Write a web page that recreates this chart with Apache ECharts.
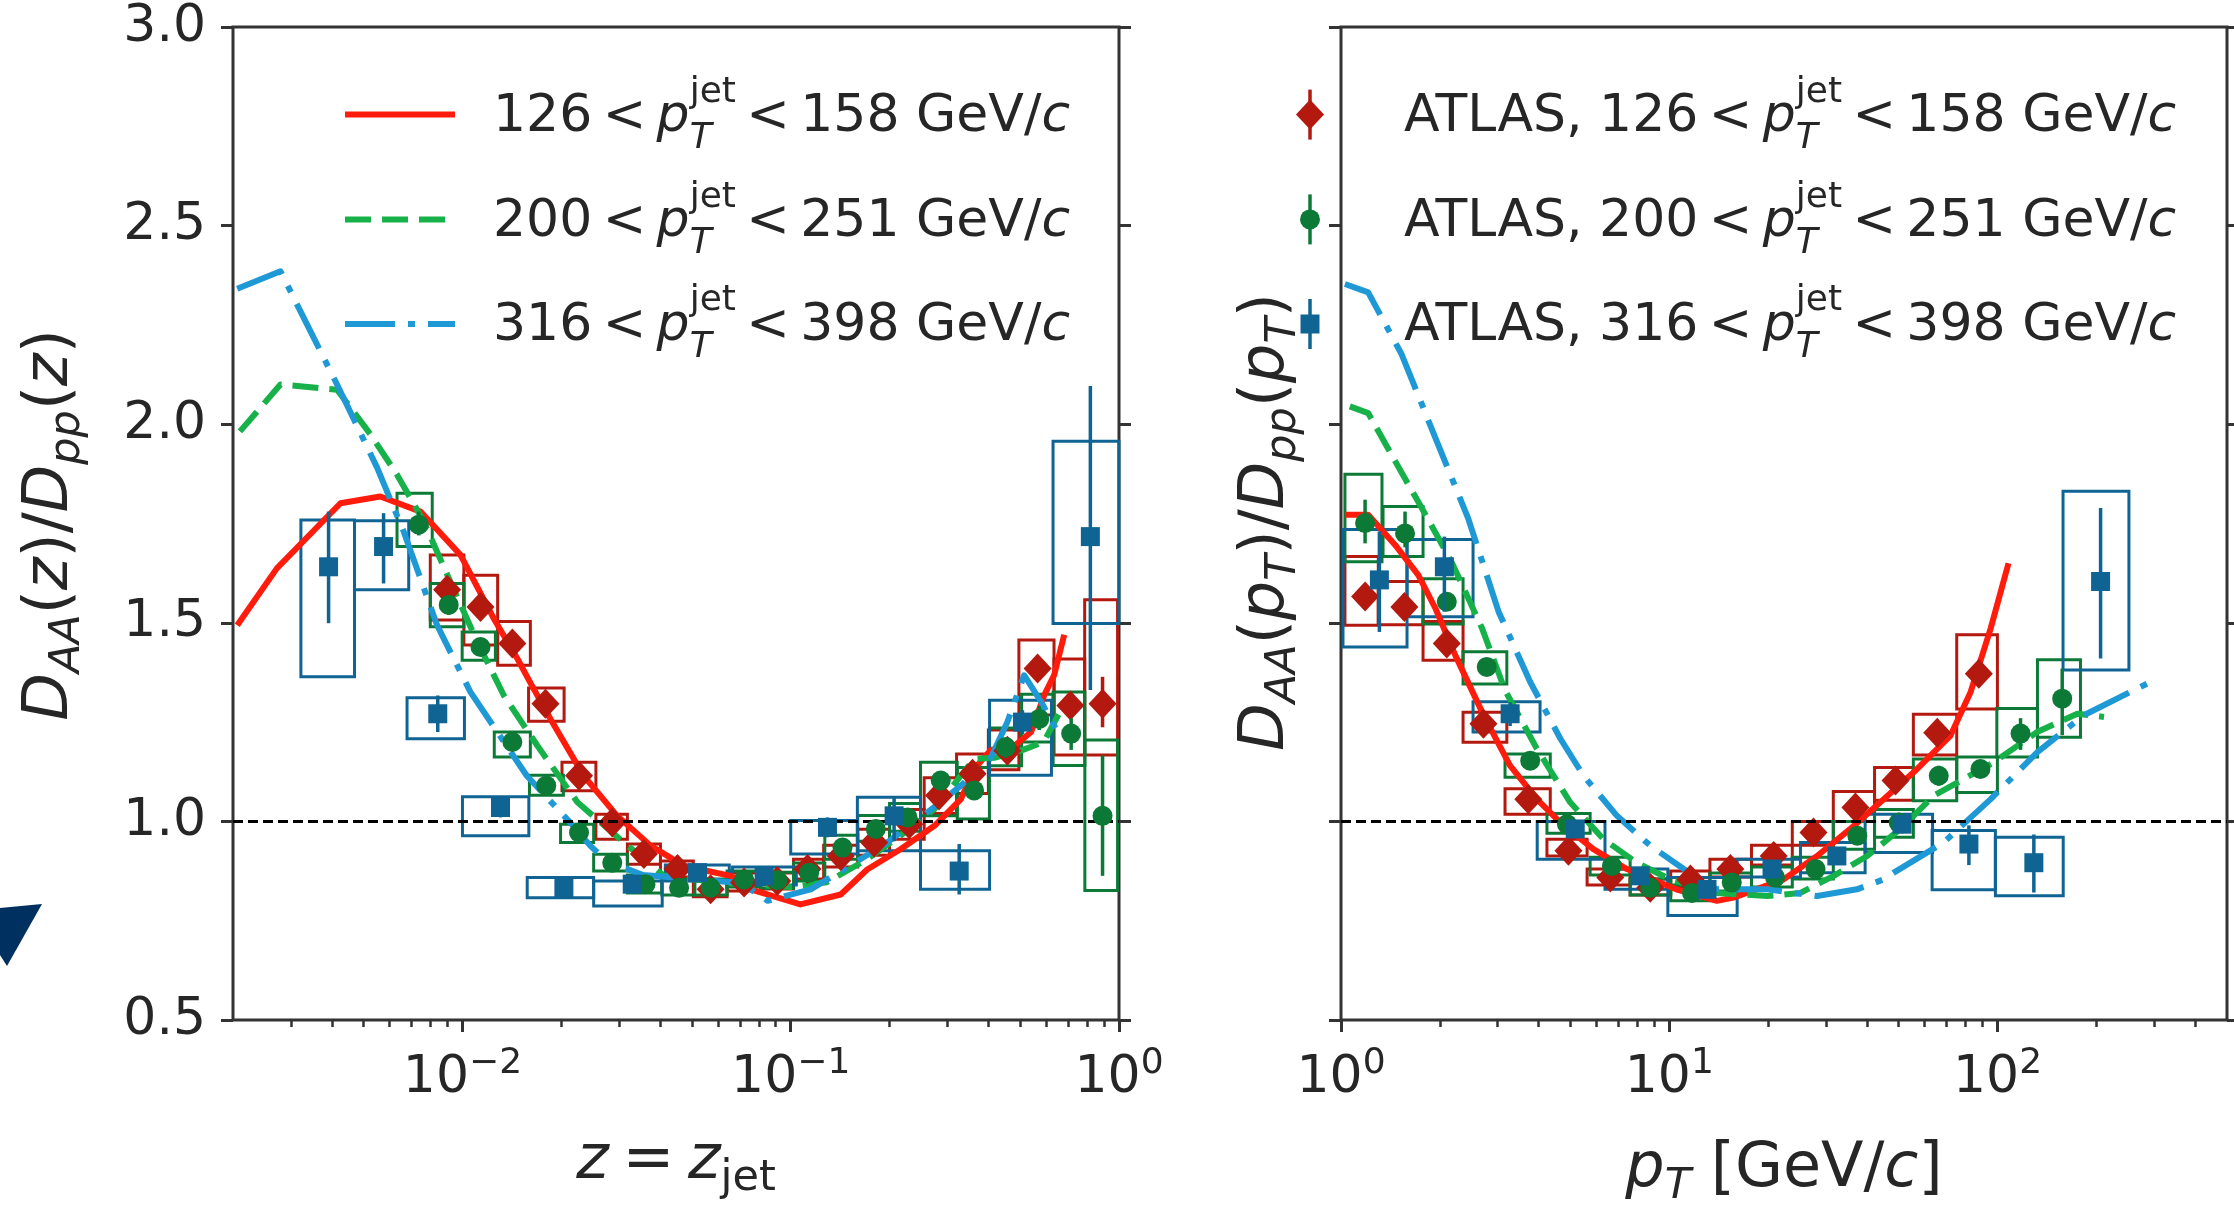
<!DOCTYPE html>
<html><head><meta charset="utf-8">
<script src="https://cdn.jsdelivr.net/npm/echarts@6/dist/echarts.min.js"></script>
<style>html,body{margin:0;padding:0;background:#fff}#c{width:2234px;height:1210px}</style>
</head><body><div id="c"></div>
<script>
// ---------------- DATA ----------------
// Left panel: theory curves D_AA(z)/D_pp(z)
const zTheoryRed = [0.00206,0.00272,0.00425,0.00562,0.00745,0.00986,0.01245,0.01469,0.0162,0.01854,0.0234,0.0296,0.0374,0.0473,0.0532,0.0656,0.0755,0.107,0.142,0.171,0.216,0.274,0.33,0.362,0.407,0.48,0.54,0.592,0.635,0.681];
const yTheoryRed = [1.494,1.637,1.801,1.818,1.780,1.671,1.511,1.410,1.345,1.258,1.115,1.014,0.939,0.888,0.879,0.863,0.829,0.791,0.816,0.879,0.930,0.989,1.056,1.132,1.18,1.19,1.225,1.318,1.369,1.47];
const zTheoryGreen = [0.0021,0.00279,0.00415,0.00525,0.00632,0.00762,0.00918,0.0111,0.01337,0.0169,0.0224,0.031,0.0411,0.063,0.1,0.129,0.171,0.216,0.274,0.362,0.417,0.51,0.59,0.665];
const yTheoryGreen = [1.982,2.100,2.087,1.974,1.873,1.755,1.604,1.452,1.317,1.191,1.048,0.947,0.863,0.845,0.835,0.847,0.905,0.964,1.031,1.157,1.16,1.18,1.2,1.28];
const zTheoryBlue = [0.00206,0.00279,0.00415,0.0055,0.00662,0.00837,0.01057,0.0157,0.0213,0.0245,0.0275,0.0355,0.05,0.0708,0.085,0.115,0.152,0.197,0.261,0.33,0.407,0.457,0.514,0.58,0.65];
const yTheoryBlue = [2.341,2.385,2.100,1.890,1.730,1.494,1.326,1.115,0.997,0.939,0.90,0.865,0.855,0.845,0.800,0.829,0.889,0.947,1.023,1.090,1.16,1.25,1.368,1.30,1.225];

// Left panel ATLAS points: [z, y, errLo, errHi, boxZlo, boxZhi, boxYlo, boxYhi]
const atlasZ126 = [
 [0.00898,1.583,1.56,1.61,0.00798,0.0101,1.507,1.671],
 [0.01135,1.540,1.52,1.56,0.0101,0.0128,1.444,1.620],
 [0.01419,1.448,1.43,1.47,0.0128,0.0161,1.393,1.503],
 [0.0179,1.296,1.28,1.31,0.0159,0.0204,1.252,1.336],
 [0.02265,1.115,1.10,1.13,0.0201,0.0255,1.077,1.149],
 [0.0286,0.997,0.985,1.01,0.0255,0.0318,0.955,1.018],
 [0.0357,0.918,0.905,0.93,0.0318,0.0401,0.892,0.943],
 [0.0452,0.880,0.87,0.89,0.0401,0.0505,0.860,0.900],
 [0.0570,0.829,0.82,0.84,0.0505,0.064,0.810,0.850],
 [0.0721,0.846,0.835,0.86,0.064,0.081,0.825,0.870],
 [0.091,0.850,0.84,0.86,0.081,0.102,0.830,0.870],
 [0.1125,0.880,0.865,0.895,0.102,0.126,0.855,0.905],
 [0.142,0.913,0.895,0.93,0.126,0.16,0.885,0.940],
 [0.1795,0.947,0.93,0.965,0.16,0.20,0.915,0.980],
 [0.2296,0.993,0.975,1.01,0.20,0.255,0.955,1.030],
 [0.283,1.065,1.045,1.085,0.255,0.32,1.020,1.110],
 [0.358,1.120,1.10,1.14,0.32,0.40,1.070,1.170],
 [0.457,1.178,1.155,1.20,0.40,0.4955,1.130,1.230],
 [0.565,1.385,1.36,1.41,0.4955,0.634,1.268,1.457],
 [0.711,1.292,1.26,1.32,0.634,0.786,1.167,1.409],
 [0.891,1.296,1.237,1.364,0.786,0.99,1.167,1.558]
];
const atlasZ200 = [
 [0.00736,1.747,1.72,1.78,0.00632,0.00809,1.692,1.826],
 [0.00908,1.545,1.52,1.57,0.00798,0.0101,1.490,1.599],
 [0.01135,1.439,1.42,1.46,0.00998,0.0126,1.406,1.477],
 [0.01419,1.200,1.185,1.215,0.0125,0.0161,1.162,1.225],
 [0.0180,1.090,1.075,1.105,0.016,0.0203,1.066,1.116],
 [0.02265,0.972,0.96,0.985,0.0199,0.0251,0.947,0.993],
 [0.0286,0.896,0.885,0.91,0.0251,0.0318,0.875,0.917],
 [0.0361,0.842,0.83,0.855,0.0318,0.0405,0.820,0.865],
 [0.0457,0.833,0.82,0.845,0.0405,0.051,0.815,0.855],
 [0.057,0.833,0.82,0.845,0.051,0.064,0.815,0.855],
 [0.0721,0.854,0.84,0.865,0.064,0.081,0.835,0.875],
 [0.091,0.852,0.84,0.865,0.081,0.102,0.832,0.872],
 [0.1138,0.871,0.855,0.885,0.102,0.127,0.850,0.895],
 [0.1438,0.934,0.915,0.95,0.127,0.16,0.905,0.965],
 [0.1816,0.981,0.96,1.0,0.16,0.20,0.950,1.015],
 [0.227,1.010,0.99,1.03,0.20,0.2485,0.975,1.045],
 [0.2864,1.103,1.08,1.125,0.2485,0.3215,1.014,1.149],
 [0.362,1.078,1.055,1.10,0.3215,0.403,1.006,1.136],
 [0.452,1.187,1.16,1.21,0.403,0.505,1.140,1.235],
 [0.5715,1.258,1.23,1.29,0.505,0.63,1.200,1.320],
 [0.715,1.221,1.18,1.26,0.63,0.787,1.141,1.326],
 [0.891,1.014,0.863,1.166,0.787,0.99,0.826,1.205]
];
const atlasZ316 = [
 [0.00391,1.641,1.499,1.780,0.00322,0.00469,1.364,1.759],
 [0.00575,1.692,1.599,1.776,0.00469,0.00686,1.583,1.757],
 [0.00841,1.271,1.225,1.317,0.00678,0.01014,1.208,1.311],
 [0.01306,1.035,1.01,1.06,0.01,0.01593,0.964,1.062],
 [0.02037,0.833,0.82,0.845,0.01575,0.0251,0.808,0.859],
 [0.0329,0.842,0.83,0.855,0.0251,0.0406,0.787,0.850],
 [0.052,0.871,0.855,0.885,0.0415,0.065,0.850,0.890],
 [0.083,0.863,0.85,0.875,0.0665,0.104,0.840,0.885],
 [0.1294,0.985,0.96,1.01,0.1,0.1596,0.918,1.002],
 [0.2065,1.014,0.95,1.06,0.1596,0.2485,0.926,1.061],
 [0.326,0.875,0.816,0.943,0.2485,0.4034,0.829,0.926],
 [0.508,1.25,1.22,1.28,0.4034,0.6226,1.116,1.305],
 [0.818,1.717,1.331,2.096,0.6296,0.9995,1.498,1.957]
];

// Right panel: theory curves D_AA(pT)/D_pp(pT)
const pTheoryRed = [1.028,1.21,1.462,1.72,1.94,2.23,2.72,3.27,3.95,4.66,5.87,7.43,10.5,13.96,15.7,22.3,28.2,35.6,45,56.9,71.9,82.8,95.3,108];
const yTheoryRedP = [1.772,1.772,1.696,1.620,1.536,1.418,1.267,1.141,1.056,0.997,0.930,0.880,0.829,0.800,0.808,0.854,0.913,0.981,1.056,1.132,1.216,1.326,1.486,1.650];
const pTheoryGreen = [1.064,1.21,1.462,1.762,2.17,2.69,3.16,3.95,4.99,6.31,7.96,10.07,13.96,19.9,25.1,31.7,40.1,50.6,64,97.5,132,175,211];
const yTheoryGreenP = [2.045,2.028,1.907,1.789,1.654,1.486,1.33,1.183,1.048,0.955,0.896,0.854,0.820,0.812,0.82,0.863,0.913,0.981,1.065,1.149,1.225,1.271,1.263];
const pTheoryBlue = [1.028,1.21,1.53,1.94,2.44,3.02,3.77,4.66,5.48,6.93,8.75,11.07,13.96,19.9,28.2,37.3,45,48.3,68.5,95.3,132,183,292];
const yTheoryBlueP = [2.353,2.332,2.176,1.965,1.763,1.528,1.351,1.208,1.115,1.014,0.939,0.880,0.829,0.829,0.812,0.829,0.854,0.871,0.947,1.056,1.174,1.267,1.351];

// Right panel ATLAS points: [pT, y, errLo, errHi, boxPlo, boxPhi, boxYlo, boxYhi]
const atlasP126 = [
 [1.184,1.566,1.545,1.59,1.028,1.299,1.494,1.667],
 [1.56,1.540,1.52,1.56,1.299,1.778,1.495,1.604],
 [2.10,1.448,1.43,1.47,1.778,2.354,1.406,1.503],
 [2.716,1.246,1.23,1.265,2.354,3.2,1.199,1.275],
 [3.72,1.056,1.04,1.07,3.16,4.34,1.018,1.082],
 [4.93,0.926,0.91,0.94,4.24,5.62,0.913,0.955],
 [6.61,0.859,0.845,0.875,5.62,7.6,0.840,0.880],
 [8.75,0.833,0.82,0.845,7.6,10.1,0.815,0.855],
 [11.6,0.854,0.84,0.87,10.1,13.3,0.835,0.875],
 [15.35,0.880,0.865,0.895,13.3,17.8,0.860,0.905],
 [20.8,0.913,0.895,0.93,17.8,23.7,0.890,0.940],
 [27.5,0.972,0.955,0.99,23.7,31.6,0.940,1.000],
 [36.9,1.035,1.015,1.055,31.6,42.2,1.000,1.075],
 [48.9,1.103,1.08,1.125,42.2,55.4,1.053,1.136],
 [65.5,1.223,1.20,1.245,55.4,75.1,1.167,1.270],
 [87.7,1.372,1.345,1.40,75.1,99.9,1.283,1.470]
];
const atlasP200 = [
 [1.184,1.751,1.70,1.81,1.028,1.333,1.654,1.874],
 [1.567,1.725,1.69,1.78,1.343,1.778,1.667,1.793],
 [2.10,1.553,1.535,1.575,1.778,2.354,1.497,1.611],
 [2.78,1.389,1.37,1.41,2.354,3.2,1.346,1.427],
 [3.77,1.153,1.135,1.17,3.16,4.34,1.111,1.170],
 [4.88,0.993,0.98,1.01,4.24,5.74,0.970,1.020],
 [6.69,0.888,0.875,0.90,5.74,7.6,0.865,0.910],
 [8.75,0.833,0.82,0.845,7.6,10.1,0.815,0.855],
 [11.73,0.820,0.805,0.835,10.1,13.3,0.800,0.840],
 [15.5,0.846,0.83,0.86,13.3,17.8,0.825,0.870],
 [21.0,0.859,0.845,0.875,17.8,23.7,0.835,0.885],
 [27.9,0.880,0.865,0.895,23.7,31.6,0.855,0.910],
 [37.4,0.964,0.945,0.98,31.6,42.2,0.930,1.000],
 [50.0,0.997,0.975,1.02,42.2,55.4,0.960,1.030],
 [66.2,1.115,1.09,1.14,55.4,75.1,1.052,1.157],
 [88.7,1.132,1.11,1.155,75.1,99.9,1.073,1.162],
 [117.5,1.221,1.18,1.26,99.5,132.3,1.162,1.284],
 [157.4,1.309,1.217,1.385,132.3,178.9,1.212,1.407]
];
const atlasP316 = [
 [1.309,1.608,1.477,1.730,1.014,1.589,1.439,1.735],
 [2.065,1.641,1.528,1.717,1.589,2.525,1.515,1.710],
 [3.275,1.271,1.24,1.30,2.525,4.04,1.225,1.301],
 [5.17,0.981,0.965,1.0,3.96,6.37,0.905,1.000],
 [8.16,0.863,0.85,0.88,6.37,9.9,0.829,0.880],
 [13.03,0.829,0.815,0.845,9.9,16.1,0.763,0.859],
 [20.56,0.880,0.865,0.895,16.1,25.1,0.860,0.905],
 [32.4,0.913,0.895,0.93,25.1,39.5,0.871,0.947],
 [51.2,0.993,0.97,1.015,39.5,63.4,0.922,1.018],
 [81.8,0.943,0.89,0.99,63.2,98.5,0.828,0.977],
 [129.0,0.896,0.821,0.967,98.5,158.5,0.813,0.960],
 [206,1.604,1.410,1.789,158.3,251.3,1.381,1.831]
];

// Ticks
const zMajorTicks = [0.01, 0.1, 1];
const zMinorTicks = [0.003,0.004,0.005,0.006,0.007,0.008,0.009,0.02,0.03,0.04,0.05,0.06,0.07,0.08,0.09,0.2,0.3,0.4,0.5,0.6,0.7,0.8,0.9];
const pMajorTicks = [1, 10, 100];
const pMinorTicks = [2,3,4,5,6,7,8,9,20,30,40,50,60,70,80,90,200,300,400];
const jetLow = ['126','200','316'];
const jetHigh = ['158','251','398'];

// ---------------- STYLE ----------------
const FF = '"DejaVu Sans"';
const TXT = '#262626';
const AX = '#333333';
const LINE_C = ['#ff1c0d', '#17b149', '#1f99d6'];
const MARK_C = ['#b3190f', '#0c7a36', '#0f6494'];
const DASHES = ['solid', [26, 11], [50, 13, 7, 13]];
const SYM = [['diamond', [28, 30]], ['circle', 20], ['rect', [19, 19]]];

const cv = document.createElement('canvas').getContext('2d');
function fnt(size, it) { return (it ? 'italic ' : '') + size + 'px ' + FF; }
function tw(t, f) { cv.font = f; return cv.measureText(t).width; }
function bOff(f) { cv.font = f; cv.textBaseline = 'middle'; return cv.measureText('H').actualBoundingBoxDescent; }

function mathRow(frags, F) {
  const kids = []; let x = 0;
  function put(t, size, it, dy, at) {
    const f = fnt(size, it);
    kids.push({type: 'text', x: at, y: dy - bOff(f), silent: true,
      style: {text: t, font: f, fill: TXT, align: 'left', verticalAlign: 'middle'}});
    return tw(t, f);
  }
  for (const fr of frags) {
    if (fr.sp != null) { x += fr.sp * F; }
    else if (fr.t != null) { x += put(fr.t, F, fr.it, 0, x); }
    else {
      const s = Math.round(F * 0.7); let w = 0;
      if (fr.sup) w = Math.max(w, put(fr.sup, s, fr.supIt, -F * (fr.sub ? 0.56 : 0.42), x));
      if (fr.sub) w = Math.max(w, put(fr.sub, s, fr.subIt, F * (fr.sup ? 0.33 : 0.2), x));
      x += w;
    }
  }
  return {kids, width: x};
}
function mathText(frags, F, x, y, anchor, rot) {
  const r = mathRow(frags, F);
  const dx = anchor === 'center' ? -r.width / 2 : 0;
  r.kids.forEach(k => { k.x += dx; });
  return {type: 'group', x: x, y: y, rotation: rot || 0, children: r.kids};
}
const SP = 0.2;
function legendFrags(prefix, a, b) {
  return [{t: prefix + a}, {sp: SP}, {t: '<'}, {sp: SP}, {t: 'p', it: true},
    {sup: 'jet', sub: 'T', subIt: true}, {sp: SP}, {t: '<'}, {sp: SP}, {t: b}, {t: ' GeV/'}, {t: 'c', it: true}];
}

// ---------------- AXES ----------------
function powFmt(v) {
  const e = Math.round(Math.log10(v));
  return '{b|10}{s|' + (e < 0 ? '\u2212' + (-e) : String(e)) + '}';
}
function majorX(g, mn, mx, vals) {
  return {type: 'log', logBase: 10, gridIndex: g, min: mn, max: mx, position: 'bottom',
    axisLine: {show: false}, splitLine: {show: false}, minorTick: {show: false},
    axisTick: {show: true, inside: false, length: 12, lineStyle: {color: AX, width: 3}, customValues: vals},
    axisLabel: {show: true, customValues: vals, margin: 26, formatter: powFmt,
      rich: {b: {fontSize: 52, fontFamily: FF, color: TXT, lineHeight: 58, verticalAlign: 'bottom'},
             s: {fontSize: 36, fontFamily: FF, color: TXT, lineHeight: 30, verticalAlign: 'top'}}}};
}
function minorX(g, mn, mx, vals) {
  return {type: 'log', logBase: 10, gridIndex: g, min: mn, max: mx, position: 'bottom',
    axisLine: {show: false}, splitLine: {show: false}, axisLabel: {show: false},
    axisTick: {show: true, inside: false, length: 7, lineStyle: {color: AX, width: 2.5}, customValues: vals}};
}
function yAx(g, pos, lab) {
  return {type: 'value', gridIndex: g, position: pos, min: 0.5, max: 3, interval: 0.5,
    axisLine: {show: false}, splitLine: {show: false},
    axisTick: {show: true, inside: false, length: 12, lineStyle: {color: AX, width: 3}},
    axisLabel: {show: lab, margin: 27, fontSize: 52, color: TXT, fontFamily: FF,
      formatter: v => v.toFixed(1)}};
}

// ---------------- SERIES ----------------
const series = [];
function addPanel(xi, yi, theory, atlas) {
  atlas.forEach((rows, k) => {
    series.push({type: 'custom', xAxisIndex: xi, yAxisIndex: yi, z: 2, silent: true,
      data: rows.map(r => [r[4], r[5], r[6], r[7]]), encode: {x: [0, 1], y: [2, 3]},
      renderItem: (params, api) => {
        const a = api.coord([api.value(0), api.value(3)]);
        const b = api.coord([api.value(1), api.value(2)]);
        return {type: 'rect', shape: {x: a[0], y: a[1], width: b[0] - a[0], height: b[1] - a[1]},
          style: {fill: 'none', stroke: MARK_C[k], lineWidth: 3}};
      }});
  });
  theory.forEach((tt, k) => {
    const s = {type: 'line', xAxisIndex: xi, yAxisIndex: yi, z: 3, silent: true, symbol: 'none',
      data: tt[0].map((x, i) => [x, tt[1][i]]),
      lineStyle: {color: LINE_C[k], width: 6, type: DASHES[k], cap: 'butt', join: 'round'}};
    if (k === 0) {
      s.markLine = {silent: true, symbol: ['none', 'none'], label: {show: false}, animation: false,
        lineStyle: {color: '#000', type: [10, 5], width: 3}, data: [{yAxis: 1}]};
    }
    series.push(s);
  });
  atlas.forEach((rows, k) => {
    series.push({type: 'custom', xAxisIndex: xi, yAxisIndex: yi, z: 4 + k, silent: true,
      data: rows.map(r => [r[0], r[2], r[3]]), encode: {x: 0, y: [1, 2]},
      renderItem: (params, api) => {
        const a = api.coord([api.value(0), api.value(1)]);
        const b = api.coord([api.value(0), api.value(2)]);
        return {type: 'line', shape: {x1: a[0], y1: a[1], x2: b[0], y2: b[1]},
          style: {stroke: MARK_C[k], lineWidth: 3.5}};
      }});
    series.push({type: 'scatter', xAxisIndex: xi, yAxisIndex: yi, z: 4 + k, silent: true,
      symbol: SYM[k][0], symbolSize: SYM[k][1], itemStyle: {color: MARK_C[k], opacity: 1},
      data: rows.map(r => [r[0], r[1]])});
  });
}
addPanel(0, 0,
  [[zTheoryRed, yTheoryRed], [zTheoryGreen, yTheoryGreen], [zTheoryBlue, yTheoryBlue]],
  [atlasZ126, atlasZ200, atlasZ316]);
addPanel(2, 2,
  [[pTheoryRed, yTheoryRedP], [pTheoryGreen, yTheoryGreenP], [pTheoryBlue, yTheoryBlueP]],
  [atlasP126, atlasP200, atlasP316]);

// ---------------- GRAPHIC (legends, titles) ----------------
const graphic = [];
graphic.push({type: 'polygon', silent: true, shape: {points: [[0, 908], [42, 904], [7, 966], [0, 955]]},
  style: {fill: '#00305f'}});
const legY = [114.6, 219.4, 324];
const legBase = [131, 236, 339.5];
const LF = 52;
for (let k = 0; k < 3; k++) {
  graphic.push({type: 'line', silent: true, shape: {x1: 345, y1: legY[k], x2: 455, y2: legY[k]},
    style: {stroke: LINE_C[k], lineWidth: 6, lineDash: DASHES[k] === 'solid' ? null : DASHES[k], lineCap: 'butt'}});
  graphic.push(mathText(legendFrags('', jetLow[k], jetHigh[k]), LF, 493, legBase[k], 'left'));
  graphic.push({type: 'line', silent: true, shape: {x1: 1310, y1: legY[k] - 25, x2: 1310, y2: legY[k] + 25},
    style: {stroke: MARK_C[k], lineWidth: 3.5}});
  let shp;
  if (k === 0) shp = {type: 'polygon', shape: {points: [[1310, legY[k] - 15], [1324, legY[k]], [1310, legY[k] + 15], [1296, legY[k]]]}};
  else if (k === 1) shp = {type: 'circle', shape: {cx: 1310, cy: legY[k], r: 10}};
  else shp = {type: 'rect', shape: {x: 1300.5, y: legY[k] - 9.5, width: 19, height: 19}};
  shp.silent = true; shp.style = {fill: MARK_C[k]};
  graphic.push(shp);
  graphic.push(mathText(legendFrags('ATLAS, ', jetLow[k], jetHigh[k]), LF, 1404, legBase[k], 'left'));
}
const AF = 62;
graphic.push(mathText([{t: 'D', it: true}, {sub: 'AA', subIt: true}, {t: '('}, {t: 'z', it: true}, {t: ')/'},
  {t: 'D', it: true}, {sub: 'pp', subIt: true}, {t: '('}, {t: 'z', it: true}, {t: ')'}], AF, 67, 525, 'center', Math.PI / 2));
graphic.push(mathText([{t: 'D', it: true}, {sub: 'AA', subIt: true}, {t: '('}, {t: 'p', it: true}, {sub: 'T', subIt: true}, {t: ')/'},
  {t: 'D', it: true}, {sub: 'pp', subIt: true}, {t: '('}, {t: 'p', it: true}, {sub: 'T', subIt: true}, {t: ')'}], AF, 1283, 522, 'center', Math.PI / 2));
graphic.push(mathText([{t: 'z', it: true}, {sp: 0.22}, {t: '='}, {sp: 0.22}, {t: 'z', it: true}, {sub: 'jet'}], AF, 676, 1178, 'center'));
graphic.push(mathText([{t: 'p', it: true}, {sub: 'T', subIt: true}, {t: ' [GeV/'}, {t: 'c', it: true}, {t: ']'}], AF, 1784, 1186, 'center'));

const option = {
  animation: false,
  backgroundColor: '#ffffff',
  textStyle: {fontFamily: FF},
  grid: [
    {left: 233, top: 27, width: 886, height: 993, show: true, borderColor: AX, borderWidth: 3, backgroundColor: 'rgba(0,0,0,0)'},
    {left: 1341, top: 27, width: 886, height: 993, show: true, borderColor: AX, borderWidth: 3, backgroundColor: 'rgba(0,0,0,0)'}
  ],
  xAxis: [majorX(0, 0.002, 1, zMajorTicks), minorX(0, 0.002, 1, zMinorTicks),
          majorX(1, 1, 500, pMajorTicks), minorX(1, 1, 500, pMinorTicks)],
  yAxis: [yAx(0, 'left', true), yAx(0, 'right', false), yAx(1, 'left', false), yAx(1, 'right', false)],
  series: series,
  graphic: graphic
};
const chart = echarts.init(document.getElementById('c'), null, {renderer: 'canvas'});
chart.setOption(option);
</script></body></html>
